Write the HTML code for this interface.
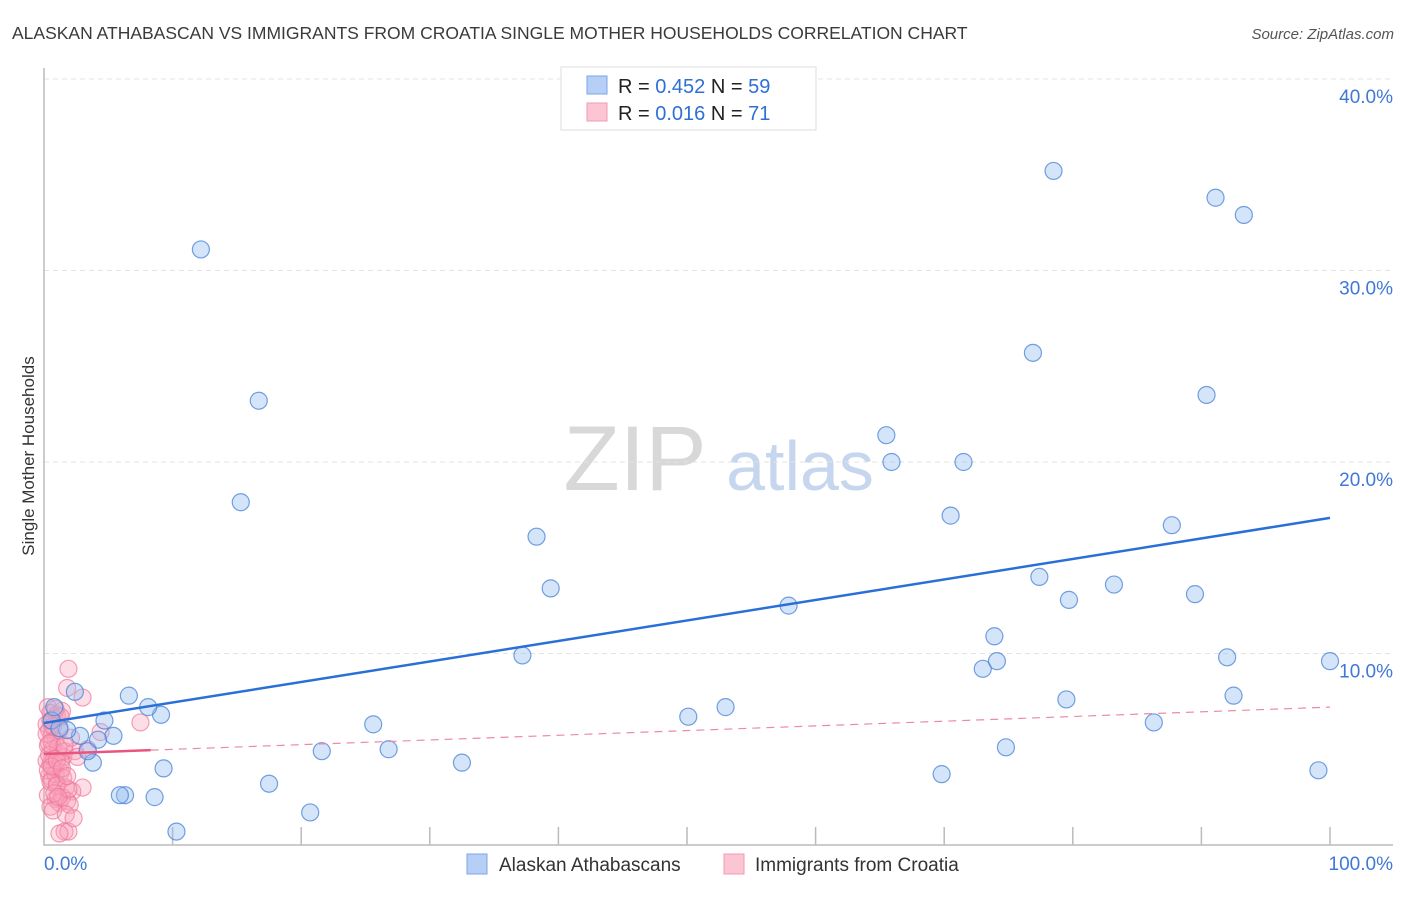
<!DOCTYPE html>
<html><head><meta charset="utf-8"><style>
body{margin:0;background:#fff;font-family:"Liberation Sans",sans-serif}
svg text{font-family:"Liberation Sans",sans-serif}
</style></head><body>
<svg id="chart" width="1406" height="892" xmlns="http://www.w3.org/2000/svg">
<text x="12" y="39" font-size="17.5" fill="#3a3a3a">ALASKAN ATHABASCAN VS IMMIGRANTS FROM CROATIA SINGLE MOTHER HOUSEHOLDS CORRELATION CHART</text>
<text x="1394" y="39" font-size="15" fill="#555" text-anchor="end" font-style="italic">Source: ZipAtlas.com</text>
<text transform="translate(34,456) rotate(-90)" font-size="17" fill="#333" text-anchor="middle">Single Mother Households</text>
<g><text x="635" y="490" font-size="92" fill="#d8d8d8" font-family="Liberation Serif" text-anchor="middle">ZIP</text><text x="800" y="490" font-size="70" fill="#c6d6ee" text-anchor="middle">atlas</text></g>
<g id="grid"></g><g id="axes"></g><g id="pts"></g><g id="lines"></g>
<g>
<rect x="561" y="67" width="255" height="63" fill="#fff" stroke="#ddd"/>
<rect x="587" y="76" width="20" height="18" fill="#b5cff5" stroke="#7aa6e8"/>
<rect x="587" y="103" width="20" height="18" fill="#fbc5d4" stroke="#f09ab3"/>
<text x="618" y="93" font-size="20" fill="#222">R = <tspan fill="#2f6fd6">0.452</tspan>   N = <tspan fill="#2f6fd6">59</tspan></text>
<text x="618" y="120" font-size="20" fill="#222">R = <tspan fill="#2f6fd6"> 0.016</tspan>   N = <tspan fill="#2f6fd6"> 71</tspan></text>
</g>
<g>
<rect x="467" y="854" width="20" height="20" fill="#b5cff5" stroke="#7aa6e8"/>
<text x="499" y="871" font-size="19" fill="#333">Alaskan Athabascans</text>
<rect x="724" y="854" width="20" height="20" fill="#fbc5d4" stroke="#f09ab3"/>
<text x="755" y="871" font-size="19" fill="#333">Immigrants from Croatia</text>
</g>
</svg>
<script>
const yTicks=[10,20,30,40];
const yTickLabels=["10.0%","20.0%","30.0%","40.0%"];
const xTickLabels=["0.0%","100.0%"];
const blueX=[12.2,16.7,15.3,38.3,39.4,37.2,78.5,91.1,93.3,76.9,90.4,65.5,65.9,71.5,70.5,87.7,77.4,79.7,83.2,89.5,57.9,73.9,73.0,74.1,92.0,100,79.5,92.5,86.3,74.8,69.8,99.1,53.0,50.1,25.6,26.8,21.6,32.5,17.5,20.7,10.3,8.6,6.3,5.9,9.3,9.1,8.1,6.6,2.4,4.7,5.4,4.2,3.8,3.4,2.8,1.8,0.6,0.8,1.2];
const blueY=[31.1,23.2,17.9,16.1,13.4,9.9,35.2,33.8,32.9,25.7,23.5,21.4,20.0,20.0,17.2,16.7,14.0,12.8,13.6,13.1,12.5,10.9,9.2,9.6,9.8,9.6,7.6,7.8,6.4,5.1,3.7,3.9,7.2,6.7,6.3,5.0,4.9,4.3,3.2,1.7,0.7,2.5,2.6,2.6,4.0,6.8,7.2,7.8,8.0,6.5,5.7,5.5,4.3,4.9,5.7,6.0,6.5,7.2,6.1];
const pinkX=[1.9,1.8,3.0,7.5,4.4,3.0,1.6,1.9,1.2,0.3,0.5,0.8,0.2,1.0,1.4,0.4,0.6,0.9,0.3,0.7,1.1,1.5,0.2,0.5,0.8,1.3,0.4,0.6,1.0,1.7,2.2,0.3,0.9,1.2,0.5,0.7,1.4,1.8,2.0,0.2,0.6,1.1,1.6,0.4,0.8,1.3,2.4,0.3,0.9,1.5,0.5,1.0,1.9,0.7,1.2,2.1,0.4,0.6,1.0,1.4,1.8,0.8,1.1,1.7,2.3,0.5,1.3,0.9,1.6,2.6,3.4];
const pinkY=[9.2,8.2,7.7,6.4,5.9,3.0,0.7,0.7,0.6,7.2,6.9,6.6,6.3,6.8,7.0,6.0,5.7,5.5,5.2,5.0,4.8,4.6,4.4,4.2,4.0,3.8,3.6,3.4,3.2,3.0,2.8,2.6,2.4,2.2,2.0,1.8,2.5,2.3,2.1,5.8,5.4,5.1,4.9,4.7,4.5,4.3,4.9,3.9,3.7,3.5,3.3,3.1,2.9,6.2,6.0,5.6,5.3,4.1,4.4,4.0,3.6,2.7,2.5,1.6,1.4,6.5,6.7,7.1,5.2,4.6,5.0];
const blueFit=[6.37,17.08];
const pinkFit=[4.75,7.2];
const X=v=>44+v*12.86, Y=v=>845-v*19.15;
const NS="http://www.w3.org/2000/svg";
function mk(parent,tag,attrs){const e=document.createElementNS(NS,tag);for(const k in attrs)e.setAttribute(k,attrs[k]);document.getElementById(parent).appendChild(e);return e;}
yTicks.forEach((t,i)=>{
 const g=mk('grid','line',{x1:44,x2:1393,y1:Y(t),y2:Y(t),stroke:'#e3e3e3','stroke-dasharray':'5,4'});
 
 
 const tx=mk('axes','text',{x:1393,y:Y(t)+24,'font-size':19,fill:'#3f78d6','text-anchor':'end'});
 tx.textContent=yTickLabels[i];
 
 
});
const ax=mk('axes','path',{d:'M44 68 V845 H1393',fill:'none',stroke:'#bbb','stroke-width':1.5});


for(let i=1;i<=10;i++){const t=mk('axes','line',{x1:X(i*10),x2:X(i*10),y1:827,y2:845,stroke:'#bbb','stroke-width':1.5});
 
 }
[[0,'start',44],[1,'end',1393]].forEach(([i,a,x])=>{const t=mk('axes','text',{x:x,y:870,'font-size':19,fill:'#3f78d6','text-anchor':a});t.textContent=xTickLabels[i];
 
 });
pinkX.forEach((v,i)=>{const c=mk('pts','circle',{cx:X(v),cy:Y(pinkY[i]),r:8.5,fill:'rgba(248,160,185,0.35)',stroke:'rgba(238,120,155,0.7)','stroke-width':1.2});
 
 });
blueX.forEach((v,i)=>{const c=mk('pts','circle',{cx:X(v),cy:Y(blueY[i]),r:8.5,fill:'rgba(150,190,240,0.4)',stroke:'rgba(70,130,215,0.75)','stroke-width':1.2});
 
 });
const bl=mk('lines','line',{x1:X(0),y1:Y(blueFit[0]),x2:X(100),y2:Y(blueFit[1]),stroke:'#2a6fd8','stroke-width':2.5});


const ps=8.3, pm=pinkFit[0]+(pinkFit[1]-pinkFit[0])*ps/100;
const pl=mk('lines','line',{x1:X(0),y1:Y(pinkFit[0]),x2:X(ps),y2:Y(pm),stroke:'#e8557f','stroke-width':2.5});


const pd=mk('lines','line',{x1:X(ps),y1:Y(pm),x2:X(100),y2:Y(pinkFit[1]),stroke:'#ec8aa6','stroke-width':1.2,'stroke-dasharray':'8,6'});


</script>
</body></html>
